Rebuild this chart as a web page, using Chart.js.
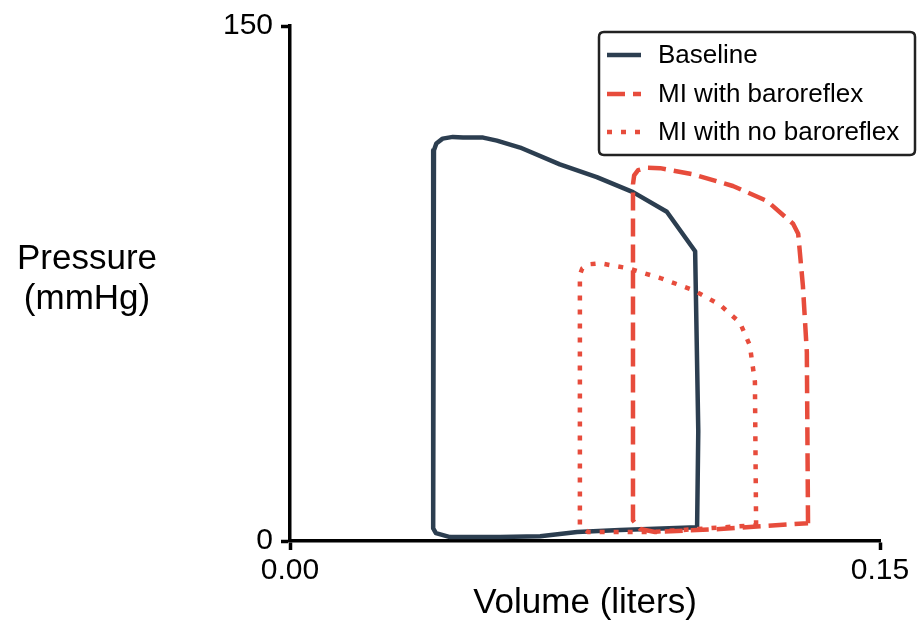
<!DOCTYPE html>
<html><head><meta charset="utf-8">
<script src="https://cdn.jsdelivr.net/npm/chart.js@4.4.1/dist/chart.umd.min.js"></script>
<style>html,body{margin:0;padding:0;background:#fff;}#wrap{width:917px;height:627px;position:relative;}</style>
</head><body><div id="wrap"><canvas id="c" width="917" height="627"></canvas></div>
<script>
const seriesNames = ['Baseline', 'MI with baroreflex', 'MI with no baroreflex'];

const baselineVolume   = [0.1035, 0.1038, 0.1030, 0.0958, 0.0872, 0.0780, 0.0686, 0.0585, 0.0526, 0.0491, 0.0440, 0.0414, 0.0388, 0.0372, 0.0366, 0.0364, 0.0364, 0.0371, 0.0407, 0.0534, 0.0636, 0.0730, 0.0839, 0.1035];
const baselinePressure = [4.0, 32, 84.4, 95.9, 101.6, 106.0, 109.7, 114.6, 116.6, 117.5, 117.5, 117.7, 117.2, 115.8, 113.8, 111.0, 3.7, 2.3, 1.15, 1.15, 1.4, 2.6, 3.2, 4.0];

const miBaroVolume   = [0.1317, 0.1314, 0.1304, 0.1292, 0.1279, 0.1213, 0.1126, 0.1025, 0.0941, 0.0905, 0.0885, 0.0875, 0.0872, 0.0872, 0.0890, 0.0928, 0.1093, 0.1317];
const miBaroPressure = [5.2, 55, 74.3, 89.5, 92.4, 99.0, 103.4, 106.8, 108.6, 108.7, 108.0, 106.5, 103.9, 6.0, 3.5, 2.6, 3.5, 5.2];

const miNoBaroVolume   = [0.1185, 0.1182, 0.1169, 0.1144, 0.1093, 0.1025, 0.0941, 0.0857, 0.0788, 0.0760, 0.0743, 0.0737, 0.0737, 0.0758, 0.0915, 0.1185];
const miNoBaroPressure = [4.6, 46.4, 57.0, 63.6, 68.8, 73.1, 76.6, 79.5, 80.9, 80.6, 79.4, 77.5, 4.6, 2.6, 2.6, 4.6];

const xTickValues = [0, 0.15];
const xTickLabels = ['0.00', '0.15'];
const yTickValues = [0, 150];
const yTickLabels = ['0', '150'];
const xAxisTitle = 'Volume (liters)';
const yAxisTitle = ['Pressure', '(mmHg)'];

const FONT = "'Liberation Sans', Arial, sans-serif";
const NAVY = '#2c3e50';
const RED = '#e74c3c';

function pts(xs, ys) { return xs.map((x, i) => ({ x: x, y: ys[i] })); }

const legendAndTitlePlugin = {
  id: 'legendAndTitle',
  afterDraw(chart) {
    const ctx = chart.ctx;
    ctx.save();
    ctx.fillStyle = '#000';
    ctx.font = '35px ' + FONT;
    ctx.textAlign = 'center';
    ctx.textBaseline = 'middle';
    ctx.fillText(yAxisTitle[0], 87, 259);
    ctx.fillText(yAxisTitle[1], 87, 299);
    const bx = 599, by = 32, bw = 316, bh = 123, r = 5;
    ctx.beginPath();
    ctx.moveTo(bx + r, by);
    ctx.lineTo(bx + bw - r, by); ctx.quadraticCurveTo(bx + bw, by, bx + bw, by + r);
    ctx.lineTo(bx + bw, by + bh - r); ctx.quadraticCurveTo(bx + bw, by + bh, bx + bw - r, by + bh);
    ctx.lineTo(bx + r, by + bh); ctx.quadraticCurveTo(bx, by + bh, bx, by + bh - r);
    ctx.lineTo(bx, by + r); ctx.quadraticCurveTo(bx, by, bx + r, by);
    ctx.closePath();
    ctx.fillStyle = '#fff';
    ctx.fill();
    ctx.lineWidth = 2.5;
    ctx.strokeStyle = '#222';
    ctx.stroke();
    const rows = [55, 94, 132];
    chart.data.datasets.forEach((ds, i) => {
      ctx.beginPath();
      ctx.setLineDash(ds.borderDash || []);
      ctx.lineDashOffset = 0;
      ctx.strokeStyle = ds.borderColor;
      ctx.lineWidth = ds.borderWidth;
      ctx.lineCap = 'butt';
      ctx.moveTo(607, rows[i]);
      ctx.lineTo(641, rows[i]);
      ctx.stroke();
      ctx.setLineDash([]);
      ctx.fillStyle = '#000';
      ctx.font = '26px ' + FONT;
      ctx.textAlign = 'left';
      ctx.textBaseline = 'middle';
      ctx.fillText(ds.label, 658, rows[i] + 1);
    });
    ctx.restore();
  }
};

new Chart(document.getElementById('c'), {
  type: 'scatter',
  data: {
    datasets: [
      { label: seriesNames[0], data: pts(baselineVolume, baselinePressure), showLine: true, borderColor: NAVY, backgroundColor: NAVY, borderWidth: 4.5, pointRadius: 0, tension: 0, borderJoinStyle: 'round', order: 3 },
      { label: seriesNames[1], data: pts(miBaroVolume, miBaroPressure), showLine: true, borderColor: RED, backgroundColor: RED, borderWidth: 4.5, borderDash: [18, 8], pointRadius: 0, tension: 0, borderJoinStyle: 'round', order: 2 },
      { label: seriesNames[2], data: pts(miNoBaroVolume, miNoBaroPressure), showLine: true, borderColor: RED, backgroundColor: RED, borderWidth: 4.5, borderDash: [5, 9], pointRadius: 0, tension: 0, borderJoinStyle: 'round', order: 1 }
    ]
  },
  options: {
    responsive: false,
    animation: false,
    devicePixelRatio: 1,
    layout: { padding: { left: 0, top: 20, right: 37, bottom: 0 } },
    plugins: { legend: { display: false }, tooltip: { enabled: false } },
    scales: {
      x: {
        type: 'linear', min: 0, max: 0.15,
        afterBuildTicks: s => { s.ticks = xTickValues.map(v => ({ value: v })); },
        afterFit: s => { s.height = 86; },
        ticks: { callback: (v, i) => xTickLabels[i], font: { size: 30, family: FONT }, color: '#000', padding: 3, maxRotation: 0, autoSkip: false },
        grid: { display: true, drawOnChartArea: false, drawTicks: true, tickLength: 9, tickWidth: 3.5, tickColor: '#000' },
        border: { display: true, color: '#000', width: 3.5 },
        title: { display: true, text: xAxisTitle, font: { size: 35, family: FONT }, color: '#000', padding: { top: 0, bottom: 3 } }
      },
      y: {
        type: 'linear', min: 0, max: 150,
        afterBuildTicks: s => { s.ticks = yTickValues.map(v => ({ value: v })); },
        afterFit: s => { s.width = 290; },
        ticks: { callback: (v, i) => yTickLabels[i], font: { size: 30, family: FONT }, color: '#000', padding: 8, autoSkip: false },
        grid: { display: true, drawOnChartArea: false, drawTicks: true, tickLength: 9, tickWidth: 3.5, tickColor: '#000' },
        border: { display: true, color: '#000', width: 3.5 }
      }
    }
  },
  plugins: [legendAndTitlePlugin]
});
</script>
</body></html>
